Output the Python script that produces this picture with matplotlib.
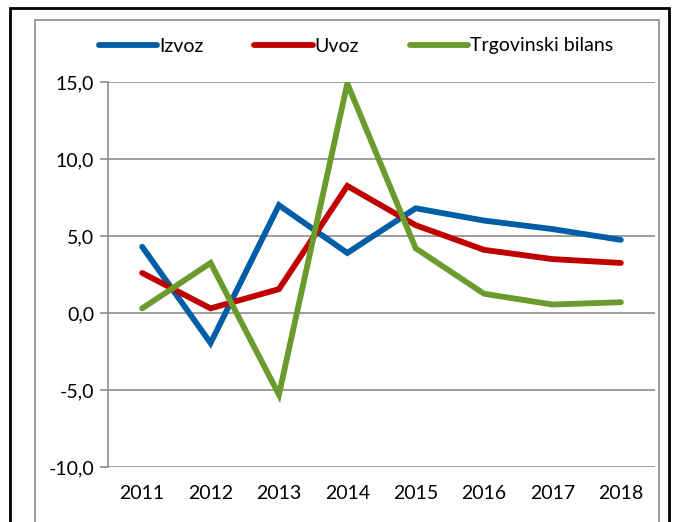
import matplotlib
matplotlib.use("Agg")
import matplotlib.pyplot as plt
from matplotlib.patches import Rectangle

years = ["2011", "2012", "2013", "2014", "2015", "2016", "2017", "2018"]
izvoz = [4.3, -1.95, 7.0, 3.9, 6.8, 6.0, 5.45, 4.75]
uvoz = [2.6, 0.3, 1.55, 8.25, 5.7, 4.1, 3.5, 3.25]
bilans = [0.3, 3.25, -5.3, 14.9, 4.2, 1.25, 0.55, 0.7]
series_names = ["Izvoz", "Uvoz", "Trgovinski bilans"]
yticks = [-10, -5, 0, 5, 10, 15]

plt.rcParams['font.family'] = ['Lato', 'DejaVu Sans']

W, H = 678, 522
fig = plt.figure(figsize=(W / 100, H / 100), dpi=100)

# outer borders
fig.add_artist(Rectangle((10 / W, -0.05), 659 / W, 1.05 - 8 / H, transform=fig.transFigure,
                         fill=False, edgecolor='black', linewidth=2))
fig.add_artist(Rectangle((35 / W, -0.05), 624 / W, 1.05 - 20 / H, transform=fig.transFigure,
                         fill=False, edgecolor='#8c8c8c', linewidth=1.2))

ax = fig.add_axes([108 / W, 1 - 467 / H, (655 - 108) / W, (467 - 82) / H])
x = list(range(len(years)))
colors = ['#005EA6', '#C00000', '#6A9B2C']
for vals, name, c in zip([izvoz, uvoz, bilans], series_names, colors):
    ax.plot(x, vals, color=c, linewidth=4.2, label=name, solid_capstyle='round', solid_joinstyle='miter')

ax.set_xlim(-0.5, len(years) - 0.5)
ax.set_ylim(-10, 15)
ax.set_yticks(yticks)
ax.set_yticklabels([f"{v:.1f}".replace('.', ',') for v in yticks], fontsize=14)
ax.set_xticks(x)
ax.set_xticklabels(years, fontsize=14)
ax.tick_params(axis='x', length=0, pad=13)
ax.tick_params(axis='y', length=6, color='#8c8c8c', width=1.2, pad=4)
ax.grid(axis='y', color='#8c8c8c', linewidth=1.2)
ax.set_axisbelow(True)
for s in ['top', 'right']:
    ax.spines[s].set_visible(False)
ax.spines['bottom'].set_visible(False)
ax.spines['left'].set_color('#8c8c8c')
ax.spines['left'].set_linewidth(1.2)

fig.legend(loc='center', bbox_to_anchor=(356 / W, 1 - 46 / H), ncol=3, frameon=False,
           fontsize=14, handlelength=3.0, handletextpad=0.1, columnspacing=2.6)

fig.savefig("out.png", dpi=100)
